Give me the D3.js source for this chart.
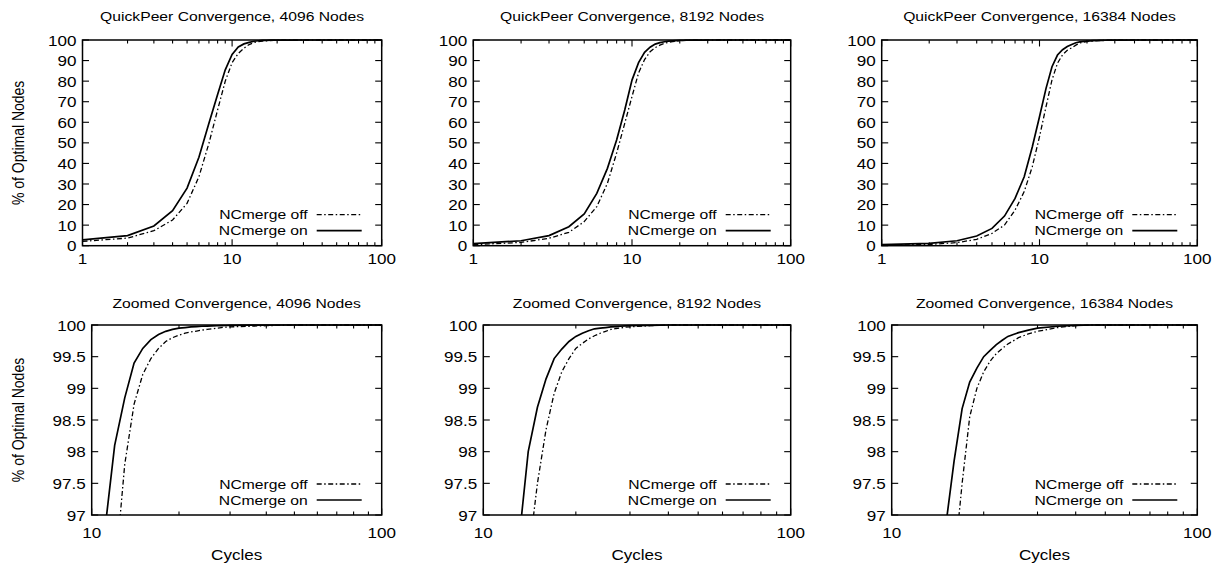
<!DOCTYPE html>
<html>
<head>
<meta charset="utf-8">
<script src="https://cdn.jsdelivr.net/npm/d3@7"></script>
<style>
  html, body { margin: 0; padding: 0; background: #fff; }
  svg { display: block; }
  text { font-family: "Liberation Sans", Arial, Helvetica, sans-serif; fill: #000; }
</style>
</head>
<body>
<svg id="chart" width="1217" height="567"></svg>
<script>
// ---------- DATA ----------
const cycles = [1,2,3,4,5,6,7,8,9,10,11,12,13,14,15,16,17,18,19,20,21,22,23,24,25,26,27,28,29,30,35,40,45,50,60,70,80,90,100];

const on4096  = [2.8,4.9,9.6,17.0,28.0,43.0,59.5,73.5,85.5,93.0,96.6,98.1,98.85,99.4,99.63,99.77,99.85,99.9,99.93,99.95,99.96,99.97,99.975,99.98,99.983,99.986,99.988,99.99,99.992,99.994,99.997,99.999,100,100,100,100,100,100,100];
const off4096 = [2.1,3.7,7.3,12.5,20.6,33.5,49.8,66.0,80.0,89.0,93.5,96.0,97.8,98.75,99.22,99.47,99.63,99.74,99.8,99.84,99.87,99.89,99.905,99.92,99.93,99.94,99.95,99.96,99.965,99.97,99.98,99.99,99.995,100,100,100,100,100,100];

const on8192  = [1.0,2.4,4.9,9.2,15.4,25.4,37.6,51.4,66.0,80.5,89.0,94.0,96.5,98.0,98.7,99.15,99.47,99.62,99.74,99.82,99.87,99.91,99.94,99.95,99.96,99.97,99.975,99.98,99.985,99.99,99.995,100,100,100,100,100,100,100,100];
const off8192 = [0.5,1.6,3.6,6.5,11.7,19.0,30.3,45.0,59.5,72.5,84.0,90.5,94.3,96.3,97.5,98.35,98.92,99.26,99.47,99.63,99.71,99.78,99.83,99.87,99.9,99.93,99.945,99.955,99.965,99.97,99.99,100,100,100,100,100,100,100,100];

const on16384  = [0.5,1.1,2.4,4.7,8.4,14.4,23.0,33.5,48.0,62.7,76.5,87.0,92.7,95.3,96.8,97.85,98.68,99.1,99.32,99.5,99.6,99.69,99.76,99.82,99.85,99.88,99.9,99.92,99.935,99.95,99.98,99.995,100,100,100,100,100,100,100];
const off16384 = [0.2,0.6,1.5,3.1,6.0,10.0,17.3,26.3,38.4,53.0,67.6,80.6,88.7,92.8,95.0,96.2,97.5,98.55,99.0,99.26,99.43,99.55,99.63,99.7,99.75,99.8,99.83,99.86,99.88,99.9,99.96,99.99,100,100,100,100,100,100,100];

const nodeCounts = [4096, 8192, 16384];
const onSeries  = [on4096, on8192, on16384];
const offSeries = [off4096, off8192, off16384];

const topXTicks = [1, 10, 100];
const bottomXTicks = [10, 100];
const topYTicks = [0,10,20,30,40,50,60,70,80,90,100];
const bottomYTicks = [97,97.5,98,98.5,99,99.5,100];

const topTitles = nodeCounts.map(n => `QuickPeer Convergence, ${n} Nodes`);
const bottomTitles = nodeCounts.map(n => `Zoomed Convergence, ${n} Nodes`);
const legendLabels = ["NCmerge off", "NCmerge on"];
const yAxisLabel = "% of Optimal Nodes";
const xAxisLabel = "Cycles";

// ---------- LAYOUT ----------
const FS = 13.4;      // title / legend font size
const FT = 14.6;      // tick label font size
const SX = 1.17;      // horizontal stretch of the original picture
const DASH = "5,2.5,1.5,2.5";

const panels = [
  {row:0, col:0, x0:82.5, x1:381.7, y0:40, y1:245.7},
  {row:0, col:1, x0:473.3, x1:790.7, y0:40, y1:245.7},
  {row:0, col:2, x0:881.7, x1:1197.3, y0:40, y1:245.7},
  {row:1, col:0, x0:91.7, x1:381.7, y0:325, y1:515},
  {row:1, col:1, x0:483.3, x1:790.7, y0:325, y1:515},
  {row:1, col:2, x0:891.7, x1:1197.3, y0:325, y1:515},
];

const svg = d3.select("#chart");

function stext(g, str, x, y, anchor, size) {
  return g.append("text")
    .attr("transform", `translate(${x},${y}) scale(${SX},1)`)
    .attr("text-anchor", anchor || "middle")
    .attr("dominant-baseline", "central")
    .style("font-size", (size || FS) + "px")
    .text(str);
}

panels.forEach((p, i) => {
  const top = p.row === 0;
  const xDomain = top ? [1, 100] : [10, 100];
  const yDomain = top ? [0, 100] : [97, 100];
  const x = d3.scaleLog().domain(xDomain).range([p.x0, p.x1]);
  const y = d3.scaleLinear().domain(yDomain).range([p.y1, p.y0]);
  const g = svg.append("g");

  const clipId = "clip" + i;
  svg.append("clipPath").attr("id", clipId)
    .append("rect").attr("x", p.x0).attr("y", p.y0 - 1)
    .attr("width", p.x1 - p.x0).attr("height", p.y1 - p.y0 + 1);

  // ticks (inward, mirrored)
  const tg = g.append("g").attr("stroke", "#000").attr("stroke-width", 1.1);
  const xTicks = top ? topXTicks : bottomXTicks;
  const yTicks = top ? topYTicks : bottomYTicks;
  const minor = [];
  for (let d = xDomain[0]; d < xDomain[1]; d *= 10) {
    for (let k = 2; k <= 9; k++) minor.push(d * k);
  }
  const MAJ = 6.5, MIN = 3.5;
  xTicks.forEach(v => {
    tg.append("line").attr("x1", x(v)).attr("x2", x(v)).attr("y1", p.y1).attr("y2", p.y1 - MAJ);
    tg.append("line").attr("x1", x(v)).attr("x2", x(v)).attr("y1", p.y0).attr("y2", p.y0 + MAJ);
  });
  minor.forEach(v => {
    tg.append("line").attr("x1", x(v)).attr("x2", x(v)).attr("y1", p.y1).attr("y2", p.y1 - MIN);
    tg.append("line").attr("x1", x(v)).attr("x2", x(v)).attr("y1", p.y0).attr("y2", p.y0 + MIN);
  });
  yTicks.forEach(v => {
    tg.append("line").attr("x1", p.x0).attr("x2", p.x0 + MAJ).attr("y1", y(v)).attr("y2", y(v));
    tg.append("line").attr("x1", p.x1).attr("x2", p.x1 - MAJ).attr("y1", y(v)).attr("y2", y(v));
  });

  // tick labels
  yTicks.forEach(v => stext(g, String(v), p.x0 - 6, y(v) + 0.5, "end", FT));
  const xLabY = top ? p.y1 + 13 : p.y1 + 17.5;
  xTicks.forEach(v => stext(g, String(v), x(v), xLabY, "middle", FT));

  // curves
  const line = d3.line().x((d, k) => x(cycles[k])).y(d => y(d));
  const cg = g.append("g").attr("clip-path", `url(#${clipId})`);
  cg.append("path").datum(offSeries[p.col])
    .attr("fill", "none").attr("stroke", "#000").attr("stroke-width", 1.3)
    .attr("stroke-dasharray", DASH).attr("d", line);
  cg.append("path").datum(onSeries[p.col])
    .attr("fill", "none").attr("stroke", "#000").attr("stroke-width", 1.7)
    .attr("d", line);

  // frame
  g.append("rect").attr("x", p.x0).attr("y", p.y0)
    .attr("width", p.x1 - p.x0).attr("height", p.y1 - p.y0)
    .attr("fill", "none").attr("stroke", "#000").attr("stroke-width", 1.5);

  // legend
  const lx1 = p.x1 - 20, lx0 = p.x1 - 65;
  const rows = [p.y1 - 31, p.y1 - 15];
  legendLabels.forEach((lab, k) => {
    stext(g, lab, p.x1 - 74, rows[k], "end", FS);
    g.append("line").attr("x1", lx0).attr("x2", lx1).attr("y1", rows[k]).attr("y2", rows[k])
      .attr("stroke", "#000").attr("stroke-width", k === 0 ? 1.3 : 1.7)
      .attr("stroke-dasharray", k === 0 ? DASH : null);
  });

  // title
  const title = top ? topTitles[p.col] : bottomTitles[p.col];
  stext(g, title, (p.x0 + p.x1) / 2, top ? 16 : 303);

  // axis labels
  if (p.col === 0) {
    g.append("text")
      .attr("transform", `translate(18,${(p.y0 + p.y1) / 2}) scale(${SX},1) rotate(-90)`)
      .attr("text-anchor", "middle").attr("dominant-baseline", "central")
      .style("font-size", "14px").text(yAxisLabel);
  }
  if (!top) {
    stext(g, xAxisLabel, (p.x0 + p.x1) / 2, 555, "middle", FT);
  }
});
</script>
</body>
</html>
